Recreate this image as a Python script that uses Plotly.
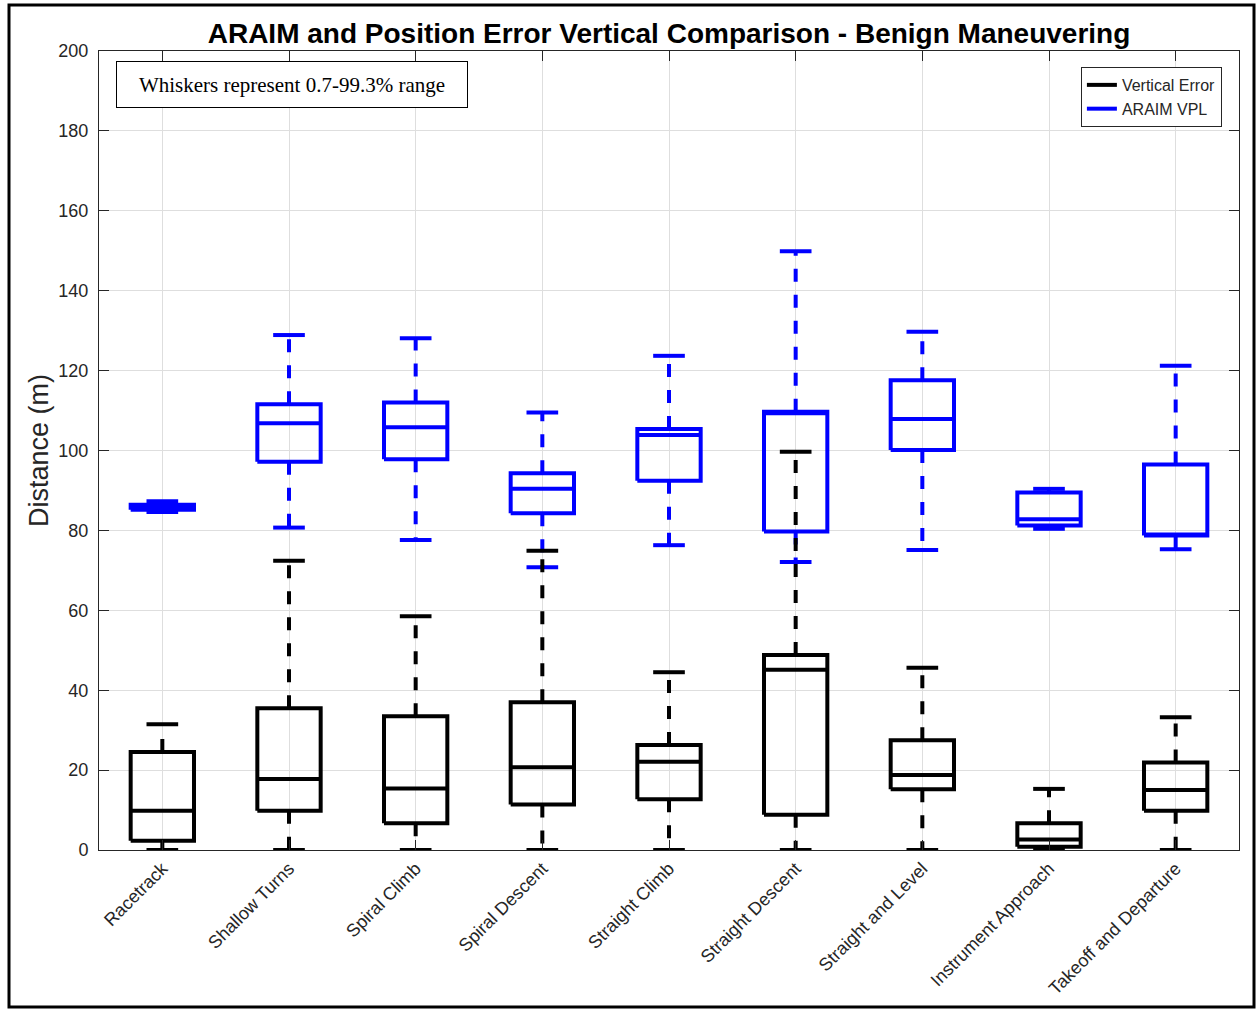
import plotly.graph_objects as go

# Flight-phase categories
categories = [
    "Racetrack", "Shallow Turns", "Spiral Climb", "Spiral Descent",
    "Straight Climb", "Straight Descent", "Straight and Level",
    "Instrument Approach", "Takeoff and Departure",
]

# ARAIM VPL statistics (m): whisker ends are the 0.7% / 99.3% percentiles
vpl_low = [84.6, 80.7, 77.6, 70.8, 76.3, 72.1, 75.1, 80.4, 75.3]
vpl_q1 = [85.2, 97.2, 97.8, 84.3, 92.4, 79.7, 100.1, 81.2, 78.7]
vpl_med = [85.8, 106.8, 105.8, 90.4, 103.9, 109.3, 107.9, 82.8, 79.0]
vpl_q3 = [86.4, 111.6, 112.0, 94.3, 105.4, 109.7, 117.6, 89.5, 96.5]
vpl_high = [87.3, 128.9, 128.1, 109.5, 123.7, 149.9, 129.7, 90.4, 121.2]

# Vertical position error statistics (m)
ve_low = [0, 0, 0, 0, 0, 0, 0, 0, 0]
ve_q1 = [2.3, 9.8, 6.7, 11.4, 12.7, 8.8, 15.2, 0.8, 9.8]
ve_med = [9.8, 17.8, 15.4, 20.7, 22.1, 45.1, 18.8, 2.6, 15.0]
ve_q3 = [24.5, 35.5, 33.5, 37.0, 26.3, 48.8, 27.5, 6.7, 21.9]
ve_high = [31.5, 72.4, 58.5, 74.9, 44.5, 99.7, 45.6, 15.3, 33.2]

BOX_HALF = 0.25   # half box width in category units
CAP_HALF = 0.125  # half whisker-cap width
LW = 4


def box_traces(name, color, low, q1, med, q3, high, rank):
    pos = list(range(1, len(categories) + 1))
    bx, by, mx, my, wx, wy, cx, cy = [], [], [], [], [], [], [], []
    for p, lo, a, m, b, hi in zip(pos, low, q1, med, q3, high):
        bx += [p - BOX_HALF, p + BOX_HALF, p + BOX_HALF, p - BOX_HALF, p - BOX_HALF, None]
        by += [a, a, b, b, a, None]
        mx += [p - BOX_HALF, p + BOX_HALF, None]
        my += [m, m, None]
        wx += [p, p, None, p, p, None]
        wy += [b, hi, None, a, lo, None]
        cx += [p - CAP_HALF, p + CAP_HALF, None, p - CAP_HALF, p + CAP_HALF, None]
        cy += [hi, hi, None, lo, lo, None]
    common = dict(mode="lines", hoverinfo="skip", legendgroup=name)
    return [
        go.Scatter(x=wx, y=wy, line=dict(color=color, width=LW, dash="13px,13px"),
                   showlegend=False, **common),
        go.Scatter(x=cx, y=cy, line=dict(color=color, width=LW), showlegend=False, **common),
        go.Scatter(x=bx, y=by, line=dict(color=color, width=LW), name=name,
                   showlegend=True, legendrank=rank, **common),
        go.Scatter(x=mx, y=my, line=dict(color=color, width=LW), showlegend=False, **common),
    ]


fig = go.Figure()
for tr in box_traces("ARAIM VPL", "#0000ff", vpl_low, vpl_q1, vpl_med, vpl_q3, vpl_high, 2):
    fig.add_trace(tr)
for tr in box_traces("Vertical Error", "#000000", ve_low, ve_q1, ve_med, ve_q3, ve_high, 1):
    fig.add_trace(tr)

axis_color = "#262626"
sans = "Liberation Sans, Arial, sans-serif"
tick_font = dict(family=sans, size=18, color=axis_color)

fig.update_layout(
    width=1259, height=1011,
    margin=dict(l=99, r=20, t=51, b=161),
    paper_bgcolor="white", plot_bgcolor="white",
    title=dict(
        text="<b>ARAIM and Position Error Vertical Comparison - Benign Maneuvering</b>",
        x=0.5, xref="paper", xanchor="center",
        y=1 - 33 / 1011, yref="container", yanchor="middle",
        font=dict(family=sans, size=28, color="#000000"),
    ),
    xaxis=dict(
        range=[0.5, len(categories) + 0.5],
        tickmode="array", tickvals=list(range(1, len(categories) + 1)), ticktext=categories,
        tickangle=-45, tickfont=tick_font,
        ticks="inside", ticklen=10, tickcolor=axis_color, tickwidth=1,
        showline=True, linecolor=axis_color, linewidth=1, mirror="ticks",
        showgrid=True, gridcolor="#dedede", gridwidth=1, zeroline=False,
    ),
    yaxis=dict(
        range=[0, 200], tickmode="linear", tick0=0, dtick=20, tickfont=tick_font,
        ticks="inside", ticklen=10, tickcolor=axis_color, tickwidth=1,
        ticklabelstandoff=6,
        showline=True, linecolor=axis_color, linewidth=1, mirror="ticks",
        showgrid=True, gridcolor="#dedede", gridwidth=1, zeroline=False,
        title=dict(text="Distance (m)", standoff=1,
                   font=dict(family=sans, size=27, color=axis_color)),
    ),
    legend=dict(
        x=0.985, y=0.98, xanchor="right", yanchor="top",
        bgcolor="white", bordercolor="#262626", borderwidth=1,
        font=dict(family=sans, size=16, color=axis_color),
        tracegroupgap=0, itemwidth=30,
    ),
    annotations=[dict(
        text="Whiskers represent 0.7-99.3% range",
        xref="paper", yref="paper", x=(292 - 99) / 1140, y=(850 - 84.5) / 799,
        xanchor="center", yanchor="middle", showarrow=False,
        font=dict(family="Liberation Serif, Times New Roman, serif", size=21, color="#000000"),
        bgcolor="white", bordercolor="#000000", borderwidth=1, borderpad=5,
        width=340, height=35,
    )],
    shapes=[dict(
        type="rect", xref="paper", yref="paper",
        x0=(9 - 99) / 1140, x1=(1254 - 99) / 1140,
        y0=(850 - 1007) / 799, y1=(850 - 5) / 799,
        line=dict(color="#000000", width=3), fillcolor="rgba(0,0,0,0)", layer="above",
    )],
)

fig.write_html("out.html")
